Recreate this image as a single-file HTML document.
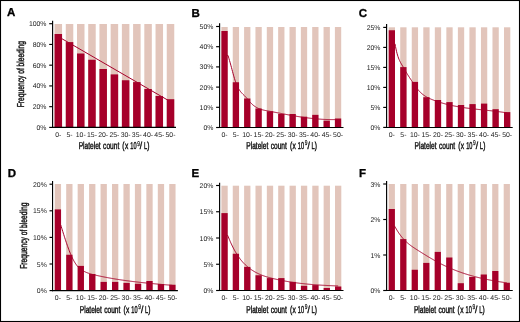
<!DOCTYPE html>
<html><head><meta charset="utf-8"><style>
html,body{margin:0;padding:0;background:#fff;}
body{width:520px;height:322px;overflow:hidden;}
svg{display:block;will-change:transform;}
text{font-family:"Liberation Sans",sans-serif;fill:#000;text-rendering:geometricPrecision;}
.tk{font-size:6.9px;fill:#1a1a1a;}
.lt{font-size:11.5px;font-weight:bold;stroke:#000;stroke-width:0.3px;}
.tt{font-size:10px;fill:#111;stroke:#111;stroke-width:0.45px;}
</style></head><body>
<svg width="520" height="322" viewBox="0 0 520 322">
<rect x="0" y="0" width="520" height="322" fill="#fff"/>
<rect x="54.56" y="24" width="7.5" height="103.4" fill="#e2c5bb"/>
<rect x="54.56" y="34" width="7.5" height="93.4" fill="#a6002a"/>
<rect x="65.78" y="24" width="7.5" height="103.4" fill="#e2c5bb"/>
<rect x="65.78" y="42.1" width="7.5" height="85.3" fill="#a6002a"/>
<rect x="77" y="24" width="7.5" height="103.4" fill="#e2c5bb"/>
<rect x="77" y="53.5" width="7.5" height="73.9" fill="#a6002a"/>
<rect x="88.22" y="24" width="7.5" height="103.4" fill="#e2c5bb"/>
<rect x="88.22" y="59.75" width="7.5" height="67.65" fill="#a6002a"/>
<rect x="99.44" y="24" width="7.5" height="103.4" fill="#e2c5bb"/>
<rect x="99.44" y="69" width="7.5" height="58.4" fill="#a6002a"/>
<rect x="110.66" y="24" width="7.5" height="103.4" fill="#e2c5bb"/>
<rect x="110.66" y="74.4" width="7.5" height="53" fill="#a6002a"/>
<rect x="121.88" y="24" width="7.5" height="103.4" fill="#e2c5bb"/>
<rect x="121.88" y="80.25" width="7.5" height="47.15" fill="#a6002a"/>
<rect x="133.1" y="24" width="7.5" height="103.4" fill="#e2c5bb"/>
<rect x="133.1" y="82.1" width="7.5" height="45.3" fill="#a6002a"/>
<rect x="144.32" y="24" width="7.5" height="103.4" fill="#e2c5bb"/>
<rect x="144.32" y="89" width="7.5" height="38.4" fill="#a6002a"/>
<rect x="155.54" y="24" width="7.5" height="103.4" fill="#e2c5bb"/>
<rect x="155.54" y="96" width="7.5" height="31.4" fill="#a6002a"/>
<rect x="166.76" y="24" width="7.5" height="103.4" fill="#e2c5bb"/>
<rect x="166.76" y="99.2" width="7.5" height="28.2" fill="#a6002a"/>
<path d="M58.31,36.61L170.51,101.69" fill="none" stroke="#a6002a" stroke-width="1"/>
<line x1="52.6" y1="20.8" x2="52.6" y2="128" stroke="#000" stroke-width="1.15"/>
<line x1="52" y1="127.4" x2="176" y2="127.4" stroke="#000" stroke-width="1.15"/>
<line x1="49.2" y1="127.4" x2="52.6" y2="127.4" stroke="#000" stroke-width="1.15"/>
<text x="46.5" y="129.9" text-anchor="end" class="tk">0%</text>
<line x1="49.2" y1="106.66" x2="52.6" y2="106.66" stroke="#000" stroke-width="1.15"/>
<text x="46.5" y="109.16" text-anchor="end" class="tk">20%</text>
<line x1="49.2" y1="85.92" x2="52.6" y2="85.92" stroke="#000" stroke-width="1.15"/>
<text x="46.5" y="88.42" text-anchor="end" class="tk">40%</text>
<line x1="49.2" y1="65.18" x2="52.6" y2="65.18" stroke="#000" stroke-width="1.15"/>
<text x="46.5" y="67.68" text-anchor="end" class="tk">60%</text>
<line x1="49.2" y1="44.44" x2="52.6" y2="44.44" stroke="#000" stroke-width="1.15"/>
<text x="46.5" y="46.94" text-anchor="end" class="tk">80%</text>
<line x1="49.2" y1="23.7" x2="52.6" y2="23.7" stroke="#000" stroke-width="1.15"/>
<text x="46.5" y="26.2" text-anchor="end" class="tk">100%</text>
<text x="58.31" y="136.5" text-anchor="middle" class="tk">0-</text>
<text x="69.53" y="136.5" text-anchor="middle" class="tk">5-</text>
<text x="80.75" y="136.5" text-anchor="middle" class="tk">10-</text>
<text x="91.97" y="136.5" text-anchor="middle" class="tk">15-</text>
<text x="103.19" y="136.5" text-anchor="middle" class="tk">20-</text>
<text x="114.41" y="136.5" text-anchor="middle" class="tk">25-</text>
<text x="125.63" y="136.5" text-anchor="middle" class="tk">30-</text>
<text x="136.85" y="136.5" text-anchor="middle" class="tk">35-</text>
<text x="148.07" y="136.5" text-anchor="middle" class="tk">40-</text>
<text x="159.29" y="136.5" text-anchor="middle" class="tk">45-</text>
<text x="170.51" y="136.5" text-anchor="middle" class="tk">50-</text>
<text x="7" y="16.35" class="lt">A</text>
<text transform="translate(78.66,149.4) scale(0.66,1)" class="tt">Platelet</text>
<text transform="translate(103.12,149.4) scale(0.66,1)" class="tt">count</text>
<text transform="translate(122.29,149.4) scale(0.66,1)" class="tt">(</text>
<text transform="translate(124.88,149.4) scale(0.66,1)" class="tt">x</text>
<text transform="translate(130.27,149.4) scale(0.56,1)" class="tt">10</text>
<text transform="translate(137.17,145.6) scale(0.7,1)" class="tt" style="font-size:7px;stroke-width:0.2px">9</text>
<text transform="translate(139.8,149.4) scale(0.85,1)" class="tt">/</text>
<text transform="translate(143.93,149.4) scale(0.57,1)" class="tt">L</text>
<text transform="translate(147.26,149.4) scale(0.66,1)" class="tt">)</text>
<rect x="221.4" y="27" width="6.3" height="100.5" fill="#e2c5bb"/>
<rect x="221.4" y="31" width="6.3" height="96.5" fill="#a6002a"/>
<rect x="232.75" y="27" width="6.3" height="100.5" fill="#e2c5bb"/>
<rect x="232.75" y="82.25" width="6.3" height="45.25" fill="#a6002a"/>
<rect x="244.1" y="27" width="6.3" height="100.5" fill="#e2c5bb"/>
<rect x="244.1" y="98.5" width="6.3" height="29" fill="#a6002a"/>
<rect x="255.45" y="27" width="6.3" height="100.5" fill="#e2c5bb"/>
<rect x="255.45" y="108.5" width="6.3" height="19" fill="#a6002a"/>
<rect x="266.8" y="27" width="6.3" height="100.5" fill="#e2c5bb"/>
<rect x="266.8" y="111.25" width="6.3" height="16.25" fill="#a6002a"/>
<rect x="278.15" y="27" width="6.3" height="100.5" fill="#e2c5bb"/>
<rect x="278.15" y="114" width="6.3" height="13.5" fill="#a6002a"/>
<rect x="289.5" y="27" width="6.3" height="100.5" fill="#e2c5bb"/>
<rect x="289.5" y="114" width="6.3" height="13.5" fill="#a6002a"/>
<rect x="300.85" y="27" width="6.3" height="100.5" fill="#e2c5bb"/>
<rect x="300.85" y="116.7" width="6.3" height="10.8" fill="#a6002a"/>
<rect x="312.2" y="27" width="6.3" height="100.5" fill="#e2c5bb"/>
<rect x="312.2" y="114.85" width="6.3" height="12.65" fill="#a6002a"/>
<rect x="323.55" y="27" width="6.3" height="100.5" fill="#e2c5bb"/>
<rect x="323.55" y="120.7" width="6.3" height="6.8" fill="#a6002a"/>
<rect x="334.9" y="27" width="6.3" height="100.5" fill="#e2c5bb"/>
<rect x="334.9" y="118.5" width="6.3" height="9" fill="#a6002a"/>
<path d="M224.55,55.41 L228,55.41 L228.5,57.07 L229,58.75 L229.5,60.45 L230,62.19 L230.5,63.97 L231,65.8 L231.5,67.66 L232,69.55 L232.5,71.43 L233,73.3 L233.5,75.13 L234,76.9 L234.5,78.6 L235,80.21 L235.5,81.71 L236,83.1 L236.5,84.37 L237,85.55 L237.5,86.63 L238,87.63 L238.5,88.54 L239,89.39 L239.5,90.16 L240,90.88 L240.5,91.54 L241,92.15 L241.5,92.73 L242,93.28 L242.5,93.8 L243,94.3 L243.5,94.79 L244,95.28 L244.5,95.76 L245,96.26 L245.5,96.77 L246,97.31 L246.5,97.87 L247,98.46 L247.5,99.06 L248,99.67 L248.5,100.27 L249,100.88 L249.5,101.47 L250,102.05 L250.5,102.61 L251,103.13 L251.5,103.64 L252,104.12 L252.5,104.57 L253,105 L253.5,105.41 L254,105.8 L254.5,106.16 L255,106.51 L255.5,106.84 L256,107.15 L256.5,107.44 L257,107.71 L257.5,107.97 L258,108.21 L258.5,108.44 L259,108.65 L259.5,108.85 L260,109.04 L260.5,109.22 L261,109.38 L261.5,109.54 L262,109.68 L262.5,109.82 L263,109.95 L263.5,110.07 L264,110.19 L264.5,110.3 L265,110.4 L265.5,110.5 L266,110.6 L266.5,110.7 L267,110.79 L267.5,110.88 L268,110.97 L268.5,111.07 L269,111.16 L269.5,111.25 L270,111.34 L270.5,111.44 L271,111.53 L271.5,111.63 L272,111.72 L272.5,111.82 L273,111.91 L273.5,112.01 L274,112.1 L274.5,112.2 L275,112.29 L275.5,112.39 L276,112.49 L276.5,112.58 L277,112.68 L277.5,112.78 L278,112.87 L278.5,112.97 L279,113.06 L279.5,113.16 L280,113.26 L280.5,113.35 L281,113.45 L281.5,113.55 L282,113.64 L282.5,113.74 L283,113.83 L283.5,113.93 L284,114.02 L284.5,114.12 L285,114.21 L285.5,114.31 L286,114.4 L286.5,114.5 L287,114.59 L287.5,114.68 L288,114.78 L288.5,114.87 L289,114.96 L289.5,115.05 L290,115.14 L290.5,115.23 L291,115.32 L291.5,115.41 L292,115.5 L292.5,115.59 L293,115.68 L293.5,115.77 L294,115.85 L294.5,115.94 L295,116.02 L295.5,116.11 L296,116.19 L296.5,116.27 L297,116.36 L297.5,116.44 L298,116.52 L298.5,116.6 L299,116.68 L299.5,116.75 L300,116.83 L300.5,116.91 L301,116.98 L301.5,117.06 L302,117.13 L302.5,117.21 L303,117.28 L303.5,117.35 L304,117.42 L304.5,117.49 L305,117.56 L305.5,117.63 L306,117.69 L306.5,117.76 L307,117.82 L307.5,117.89 L308,117.95 L308.5,118.01 L309,118.07 L309.5,118.13 L310,118.19 L310.5,118.25 L311,118.31 L311.5,118.36 L312,118.42 L312.5,118.47 L313,118.52 L313.5,118.58 L314,118.63 L314.5,118.68 L315,118.72 L315.5,118.77 L316,118.82 L316.5,118.86 L317,118.9 L317.5,118.95 L318,118.99 L318.5,119.03 L319,119.07 L319.5,119.1 L320,119.14 L320.5,119.17 L321,119.21 L321.5,119.24 L322,119.27 L322.5,119.3 L323,119.33 L323.5,119.36 L324,119.38 L324.5,119.41 L325,119.43 L325.5,119.45 L326,119.47 L326.5,119.49 L327,119.51 L327.5,119.52 L328,119.54 L328.5,119.55 L329,119.56 L329.5,119.57 L330,119.58 L330.5,119.59 L331,119.6 L331.5,119.6 L332,119.6 L332.5,119.6 L333,119.6 L333.5,119.6 L334,119.6 L334.5,119.6 L335,119.59 L335.5,119.58 L336,119.57 L336.5,119.56 L337,119.55 L337.5,119.53 L338,119.52 L338.05,119.52" fill="none" stroke="#a6002a" stroke-width="1"/>
<line x1="219.6" y1="23.3" x2="219.6" y2="128.1" stroke="#000" stroke-width="1.15"/>
<line x1="219" y1="127.5" x2="343.5" y2="127.5" stroke="#000" stroke-width="1.15"/>
<line x1="216.1" y1="127.5" x2="219.6" y2="127.5" stroke="#000" stroke-width="1.15"/>
<text x="213.4" y="130" text-anchor="end" class="tk">0%</text>
<line x1="216.1" y1="107.3" x2="219.6" y2="107.3" stroke="#000" stroke-width="1.15"/>
<text x="213.4" y="109.8" text-anchor="end" class="tk">10%</text>
<line x1="216.1" y1="87.1" x2="219.6" y2="87.1" stroke="#000" stroke-width="1.15"/>
<text x="213.4" y="89.6" text-anchor="end" class="tk">20%</text>
<line x1="216.1" y1="66.9" x2="219.6" y2="66.9" stroke="#000" stroke-width="1.15"/>
<text x="213.4" y="69.4" text-anchor="end" class="tk">30%</text>
<line x1="216.1" y1="46.7" x2="219.6" y2="46.7" stroke="#000" stroke-width="1.15"/>
<text x="213.4" y="49.2" text-anchor="end" class="tk">40%</text>
<line x1="216.1" y1="26.5" x2="219.6" y2="26.5" stroke="#000" stroke-width="1.15"/>
<text x="213.4" y="29" text-anchor="end" class="tk">50%</text>
<text x="224.55" y="136.5" text-anchor="middle" class="tk">0-</text>
<text x="235.9" y="136.5" text-anchor="middle" class="tk">5-</text>
<text x="247.25" y="136.5" text-anchor="middle" class="tk">10-</text>
<text x="258.6" y="136.5" text-anchor="middle" class="tk">15-</text>
<text x="269.95" y="136.5" text-anchor="middle" class="tk">20-</text>
<text x="281.3" y="136.5" text-anchor="middle" class="tk">25-</text>
<text x="292.65" y="136.5" text-anchor="middle" class="tk">30-</text>
<text x="304" y="136.5" text-anchor="middle" class="tk">35-</text>
<text x="315.35" y="136.5" text-anchor="middle" class="tk">40-</text>
<text x="326.7" y="136.5" text-anchor="middle" class="tk">45-</text>
<text x="338.05" y="136.5" text-anchor="middle" class="tk">50-</text>
<text x="191.4" y="16.6" class="lt">B</text>
<text transform="translate(246.26,149.2) scale(0.66,1)" class="tt">Platelet</text>
<text transform="translate(270.72,149.2) scale(0.66,1)" class="tt">count</text>
<text transform="translate(289.89,149.2) scale(0.66,1)" class="tt">(</text>
<text transform="translate(292.48,149.2) scale(0.66,1)" class="tt">x</text>
<text transform="translate(297.87,149.2) scale(0.56,1)" class="tt">10</text>
<text transform="translate(304.77,145.4) scale(0.7,1)" class="tt" style="font-size:7px;stroke-width:0.2px">9</text>
<text transform="translate(307.4,149.2) scale(0.85,1)" class="tt">/</text>
<text transform="translate(311.53,149.2) scale(0.57,1)" class="tt">L</text>
<text transform="translate(314.86,149.2) scale(0.66,1)" class="tt">)</text>
<rect x="388.7" y="27.3" width="6.3" height="100.1" fill="#e2c5bb"/>
<rect x="388.7" y="30.25" width="6.3" height="97.15" fill="#a6002a"/>
<rect x="400.23" y="27.3" width="6.3" height="100.1" fill="#e2c5bb"/>
<rect x="400.23" y="67.1" width="6.3" height="60.3" fill="#a6002a"/>
<rect x="411.76" y="27.3" width="6.3" height="100.1" fill="#e2c5bb"/>
<rect x="411.76" y="81.9" width="6.3" height="45.5" fill="#a6002a"/>
<rect x="423.29" y="27.3" width="6.3" height="100.1" fill="#e2c5bb"/>
<rect x="423.29" y="97.2" width="6.3" height="30.2" fill="#a6002a"/>
<rect x="434.82" y="27.3" width="6.3" height="100.1" fill="#e2c5bb"/>
<rect x="434.82" y="100" width="6.3" height="27.4" fill="#a6002a"/>
<rect x="446.35" y="27.3" width="6.3" height="100.1" fill="#e2c5bb"/>
<rect x="446.35" y="102.1" width="6.3" height="25.3" fill="#a6002a"/>
<rect x="457.88" y="27.3" width="6.3" height="100.1" fill="#e2c5bb"/>
<rect x="457.88" y="105" width="6.3" height="22.4" fill="#a6002a"/>
<rect x="469.41" y="27.3" width="6.3" height="100.1" fill="#e2c5bb"/>
<rect x="469.41" y="104.1" width="6.3" height="23.3" fill="#a6002a"/>
<rect x="480.94" y="27.3" width="6.3" height="100.1" fill="#e2c5bb"/>
<rect x="480.94" y="103.6" width="6.3" height="23.8" fill="#a6002a"/>
<rect x="492.47" y="27.3" width="6.3" height="100.1" fill="#e2c5bb"/>
<rect x="492.47" y="109.2" width="6.3" height="18.2" fill="#a6002a"/>
<rect x="504" y="27.3" width="6.3" height="100.1" fill="#e2c5bb"/>
<rect x="504" y="112.1" width="6.3" height="15.3" fill="#a6002a"/>
<path d="M391.85,43.83 L395,43.83 L395.5,46.58 L396,49.06 L396.5,51.28 L397,53.26 L397.5,55.04 L398,56.62 L398.5,58.04 L399,59.31 L399.5,60.45 L400,61.49 L400.5,62.45 L401,63.34 L401.5,64.2 L402,65.05 L402.5,65.89 L403,66.75 L403.5,67.62 L404,68.49 L404.5,69.37 L405,70.24 L405.5,71.1 L406,71.95 L406.5,72.78 L407,73.6 L407.5,74.4 L408,75.19 L408.5,75.98 L409,76.75 L409.5,77.51 L410,78.27 L410.5,79.02 L411,79.77 L411.5,80.51 L412,81.26 L412.5,82 L413,82.75 L413.5,83.49 L414,84.23 L414.5,84.97 L415,85.69 L415.5,86.4 L416,87.1 L416.5,87.78 L417,88.44 L417.5,89.08 L418,89.7 L418.5,90.29 L419,90.85 L419.5,91.4 L420,91.92 L420.5,92.42 L421,92.89 L421.5,93.35 L422,93.79 L422.5,94.2 L423,94.6 L423.5,94.98 L424,95.35 L424.5,95.7 L425,96.03 L425.5,96.35 L426,96.65 L426.5,96.95 L427,97.23 L427.5,97.49 L428,97.75 L428.5,98 L429,98.24 L429.5,98.47 L430,98.7 L430.5,98.91 L431,99.12 L431.5,99.33 L432,99.53 L432.5,99.73 L433,99.92 L433.5,100.12 L434,100.31 L434.5,100.49 L435,100.68 L435.5,100.86 L436,101.04 L436.5,101.21 L437,101.39 L437.5,101.56 L438,101.73 L438.5,101.89 L439,102.05 L439.5,102.22 L440,102.37 L440.5,102.53 L441,102.68 L441.5,102.84 L442,102.98 L442.5,103.13 L443,103.28 L443.5,103.42 L444,103.56 L444.5,103.7 L445,103.83 L445.5,103.97 L446,104.1 L446.5,104.23 L447,104.35 L447.5,104.48 L448,104.6 L448.5,104.72 L449,104.84 L449.5,104.96 L450,105.08 L450.5,105.19 L451,105.3 L451.5,105.41 L452,105.52 L452.5,105.63 L453,105.73 L453.5,105.84 L454,105.94 L454.5,106.04 L455,106.14 L455.5,106.23 L456,106.33 L456.5,106.42 L457,106.51 L457.5,106.6 L458,106.69 L458.5,106.78 L459,106.87 L459.5,106.95 L460,107.04 L460.5,107.12 L461,107.2 L461.5,107.28 L462,107.36 L462.5,107.44 L463,107.51 L463.5,107.59 L464,107.66 L464.5,107.73 L465,107.81 L465.5,107.88 L466,107.95 L466.5,108.02 L467,108.08 L467.5,108.15 L468,108.22 L468.5,108.28 L469,108.35 L469.5,108.41 L470,108.47 L470.5,108.54 L471,108.6 L471.5,108.66 L472,108.72 L472.5,108.78 L473,108.84 L473.5,108.89 L474,108.95 L474.5,109.01 L475,109.07 L475.5,109.12 L476,109.18 L476.5,109.23 L477,109.29 L477.5,109.34 L478,109.4 L478.5,109.45 L479,109.5 L479.5,109.56 L480,109.61 L480.5,109.66 L481,109.71 L481.5,109.77 L482,109.82 L482.5,109.87 L483,109.92 L483.5,109.97 L484,110.03 L484.5,110.08 L485,110.13 L485.5,110.18 L486,110.23 L486.5,110.29 L487,110.34 L487.5,110.39 L488,110.45 L488.5,110.5 L489,110.55 L489.5,110.61 L490,110.66 L490.5,110.71 L491,110.77 L491.5,110.82 L492,110.88 L492.5,110.93 L493,110.99 L493.5,111.05 L494,111.11 L494.5,111.16 L495,111.22 L495.5,111.28 L496,111.34 L496.5,111.4 L497,111.46 L497.5,111.52 L498,111.59 L498.5,111.65 L499,111.71 L499.5,111.78 L500,111.85 L500.5,111.91 L501,111.98 L501.5,112.05 L502,112.12 L502.5,112.19 L503,112.26 L503.5,112.33 L504,112.41 L504.5,112.48 L505,112.56 L505.5,112.64 L506,112.71 L506.5,112.79 L507,112.87 L507.15,112.9" fill="none" stroke="#a6002a" stroke-width="1"/>
<line x1="386.6" y1="24.1" x2="386.6" y2="128.1" stroke="#000" stroke-width="1.15"/>
<line x1="386" y1="127.5" x2="512.7" y2="127.5" stroke="#000" stroke-width="1.15"/>
<line x1="383.2" y1="127.4" x2="386.6" y2="127.4" stroke="#000" stroke-width="1.15"/>
<text x="380.5" y="129.9" text-anchor="end" class="tk">0%</text>
<line x1="383.2" y1="107.4" x2="386.6" y2="107.4" stroke="#000" stroke-width="1.15"/>
<text x="380.5" y="109.9" text-anchor="end" class="tk">5%</text>
<line x1="383.2" y1="87.4" x2="386.6" y2="87.4" stroke="#000" stroke-width="1.15"/>
<text x="380.5" y="89.9" text-anchor="end" class="tk">10%</text>
<line x1="383.2" y1="67.4" x2="386.6" y2="67.4" stroke="#000" stroke-width="1.15"/>
<text x="380.5" y="69.9" text-anchor="end" class="tk">15%</text>
<line x1="383.2" y1="47.4" x2="386.6" y2="47.4" stroke="#000" stroke-width="1.15"/>
<text x="380.5" y="49.9" text-anchor="end" class="tk">20%</text>
<line x1="383.2" y1="27.4" x2="386.6" y2="27.4" stroke="#000" stroke-width="1.15"/>
<text x="380.5" y="29.9" text-anchor="end" class="tk">25%</text>
<text x="391.85" y="136.5" text-anchor="middle" class="tk">0-</text>
<text x="403.38" y="136.5" text-anchor="middle" class="tk">5-</text>
<text x="414.91" y="136.5" text-anchor="middle" class="tk">10-</text>
<text x="426.44" y="136.5" text-anchor="middle" class="tk">15-</text>
<text x="437.97" y="136.5" text-anchor="middle" class="tk">20-</text>
<text x="449.5" y="136.5" text-anchor="middle" class="tk">25-</text>
<text x="461.03" y="136.5" text-anchor="middle" class="tk">30-</text>
<text x="472.56" y="136.5" text-anchor="middle" class="tk">35-</text>
<text x="484.09" y="136.5" text-anchor="middle" class="tk">40-</text>
<text x="495.62" y="136.5" text-anchor="middle" class="tk">45-</text>
<text x="507.15" y="136.5" text-anchor="middle" class="tk">50-</text>
<text x="358.7" y="16.8" class="lt">C</text>
<text transform="translate(414.56,149.2) scale(0.66,1)" class="tt">Platelet</text>
<text transform="translate(439.02,149.2) scale(0.66,1)" class="tt">count</text>
<text transform="translate(458.19,149.2) scale(0.66,1)" class="tt">(</text>
<text transform="translate(460.78,149.2) scale(0.66,1)" class="tt">x</text>
<text transform="translate(466.17,149.2) scale(0.56,1)" class="tt">10</text>
<text transform="translate(473.07,145.4) scale(0.7,1)" class="tt" style="font-size:7px;stroke-width:0.2px">9</text>
<text transform="translate(475.7,149.2) scale(0.85,1)" class="tt">/</text>
<text transform="translate(479.83,149.2) scale(0.57,1)" class="tt">L</text>
<text transform="translate(483.16,149.2) scale(0.66,1)" class="tt">)</text>
<rect x="54.75" y="184" width="6.3" height="106.6" fill="#e2c5bb"/>
<rect x="54.75" y="209.4" width="6.3" height="81.2" fill="#a6002a"/>
<rect x="66.2" y="184" width="6.3" height="106.6" fill="#e2c5bb"/>
<rect x="66.2" y="254.75" width="6.3" height="35.85" fill="#a6002a"/>
<rect x="77.65" y="184" width="6.3" height="106.6" fill="#e2c5bb"/>
<rect x="77.65" y="265.9" width="6.3" height="24.7" fill="#a6002a"/>
<rect x="89.1" y="184" width="6.3" height="106.6" fill="#e2c5bb"/>
<rect x="89.1" y="274" width="6.3" height="16.6" fill="#a6002a"/>
<rect x="100.55" y="184" width="6.3" height="106.6" fill="#e2c5bb"/>
<rect x="100.55" y="281.9" width="6.3" height="8.7" fill="#a6002a"/>
<rect x="112" y="184" width="6.3" height="106.6" fill="#e2c5bb"/>
<rect x="112" y="281.9" width="6.3" height="8.7" fill="#a6002a"/>
<rect x="123.45" y="184" width="6.3" height="106.6" fill="#e2c5bb"/>
<rect x="123.45" y="282.9" width="6.3" height="7.7" fill="#a6002a"/>
<rect x="134.9" y="184" width="6.3" height="106.6" fill="#e2c5bb"/>
<rect x="134.9" y="283.75" width="6.3" height="6.85" fill="#a6002a"/>
<rect x="146.35" y="184" width="6.3" height="106.6" fill="#e2c5bb"/>
<rect x="146.35" y="281" width="6.3" height="9.6" fill="#a6002a"/>
<rect x="157.8" y="184" width="6.3" height="106.6" fill="#e2c5bb"/>
<rect x="157.8" y="284.1" width="6.3" height="6.5" fill="#a6002a"/>
<rect x="169.25" y="184" width="6.3" height="106.6" fill="#e2c5bb"/>
<rect x="169.25" y="284.75" width="6.3" height="5.85" fill="#a6002a"/>
<path d="M57.9,225.05 L60.75,225.05 L61.25,226.66 L61.75,228.27 L62.25,229.87 L62.75,231.47 L63.25,233.06 L63.75,234.64 L64.25,236.21 L64.75,237.77 L65.25,239.31 L65.75,240.83 L66.25,242.32 L66.75,243.8 L67.25,245.24 L67.75,246.66 L68.25,248.05 L68.75,249.41 L69.25,250.72 L69.75,252.01 L70.25,253.25 L70.75,254.44 L71.25,255.59 L71.75,256.7 L72.25,257.76 L72.75,258.78 L73.25,259.75 L73.75,260.68 L74.25,261.56 L74.75,262.4 L75.25,263.19 L75.75,263.94 L76.25,264.65 L76.75,265.31 L77.25,265.93 L77.75,266.51 L78.25,267.05 L78.75,267.56 L79.25,268.04 L79.75,268.49 L80.25,268.9 L80.75,269.3 L81.25,269.66 L81.75,270 L82.25,270.33 L82.75,270.63 L83.25,270.91 L83.75,271.19 L84.25,271.44 L84.75,271.69 L85.25,271.93 L85.75,272.15 L86.25,272.37 L86.75,272.57 L87.25,272.77 L87.75,272.96 L88.25,273.14 L88.75,273.31 L89.25,273.48 L89.75,273.64 L90.25,273.79 L90.75,273.94 L91.25,274.09 L91.75,274.22 L92.25,274.36 L92.75,274.49 L93.25,274.61 L93.75,274.73 L94.25,274.85 L94.75,274.97 L95.25,275.09 L95.75,275.2 L96.25,275.31 L96.75,275.43 L97.25,275.54 L97.75,275.65 L98.25,275.76 L98.75,275.87 L99.25,275.98 L99.75,276.08 L100.25,276.19 L100.75,276.29 L101.25,276.4 L101.75,276.5 L102.25,276.6 L102.75,276.71 L103.25,276.81 L103.75,276.91 L104.25,277.01 L104.75,277.11 L105.25,277.2 L105.75,277.3 L106.25,277.4 L106.75,277.49 L107.25,277.59 L107.75,277.68 L108.25,277.77 L108.75,277.87 L109.25,277.96 L109.75,278.05 L110.25,278.14 L110.75,278.23 L111.25,278.31 L111.75,278.4 L112.25,278.49 L112.75,278.58 L113.25,278.66 L113.75,278.75 L114.25,278.83 L114.75,278.91 L115.25,279 L115.75,279.08 L116.25,279.16 L116.75,279.24 L117.25,279.32 L117.75,279.4 L118.25,279.48 L118.75,279.55 L119.25,279.63 L119.75,279.71 L120.25,279.78 L120.75,279.86 L121.25,279.93 L121.75,280.01 L122.25,280.08 L122.75,280.15 L123.25,280.23 L123.75,280.3 L124.25,280.37 L124.75,280.44 L125.25,280.51 L125.75,280.58 L126.25,280.65 L126.75,280.72 L127.25,280.78 L127.75,280.85 L128.25,280.92 L128.75,280.98 L129.25,281.05 L129.75,281.11 L130.25,281.18 L130.75,281.24 L131.25,281.3 L131.75,281.37 L132.25,281.43 L132.75,281.49 L133.25,281.55 L133.75,281.61 L134.25,281.67 L134.75,281.73 L135.25,281.79 L135.75,281.85 L136.25,281.91 L136.75,281.97 L137.25,282.03 L137.75,282.08 L138.25,282.14 L138.75,282.2 L139.25,282.25 L139.75,282.31 L140.25,282.36 L140.75,282.42 L141.25,282.47 L141.75,282.53 L142.25,282.58 L142.75,282.63 L143.25,282.69 L143.75,282.74 L144.25,282.79 L144.75,282.84 L145.25,282.89 L145.75,282.95 L146.25,283 L146.75,283.05 L147.25,283.1 L147.75,283.15 L148.25,283.2 L148.75,283.24 L149.25,283.29 L149.75,283.34 L150.25,283.39 L150.75,283.44 L151.25,283.49 L151.75,283.53 L152.25,283.58 L152.75,283.63 L153.25,283.67 L153.75,283.72 L154.25,283.77 L154.75,283.81 L155.25,283.86 L155.75,283.9 L156.25,283.95 L156.75,284 L157.25,284.04 L157.75,284.08 L158.25,284.13 L158.75,284.17 L159.25,284.22 L159.75,284.26 L160.25,284.31 L160.75,284.35 L161.25,284.39 L161.75,284.44 L162.25,284.48 L162.75,284.52 L163.25,284.57 L163.75,284.61 L164.25,284.65 L164.75,284.69 L165.25,284.74 L165.75,284.78 L166.25,284.82 L166.75,284.86 L167.25,284.91 L167.75,284.95 L168.25,284.99 L168.75,285.03 L169.25,285.07 L169.75,285.11 L170.25,285.16 L170.75,285.2 L171.25,285.24 L171.75,285.28 L172.25,285.32 L172.4,285.34" fill="none" stroke="#a6002a" stroke-width="1"/>
<line x1="52.55" y1="181" x2="52.55" y2="291.2" stroke="#000" stroke-width="1.15"/>
<line x1="51.95" y1="290.6" x2="177.9" y2="290.6" stroke="#000" stroke-width="1.15"/>
<line x1="49.5" y1="290.6" x2="52.55" y2="290.6" stroke="#000" stroke-width="1.15"/>
<text x="46.8" y="293.1" text-anchor="end" class="tk">0%</text>
<line x1="49.5" y1="264" x2="52.55" y2="264" stroke="#000" stroke-width="1.15"/>
<text x="46.8" y="266.5" text-anchor="end" class="tk">5%</text>
<line x1="49.5" y1="237.4" x2="52.55" y2="237.4" stroke="#000" stroke-width="1.15"/>
<text x="46.8" y="239.9" text-anchor="end" class="tk">10%</text>
<line x1="49.5" y1="210.8" x2="52.55" y2="210.8" stroke="#000" stroke-width="1.15"/>
<text x="46.8" y="213.3" text-anchor="end" class="tk">15%</text>
<line x1="49.5" y1="184.2" x2="52.55" y2="184.2" stroke="#000" stroke-width="1.15"/>
<text x="46.8" y="186.7" text-anchor="end" class="tk">20%</text>
<text x="57.9" y="299.7" text-anchor="middle" class="tk">0-</text>
<text x="69.35" y="299.7" text-anchor="middle" class="tk">5-</text>
<text x="80.8" y="299.7" text-anchor="middle" class="tk">10-</text>
<text x="92.25" y="299.7" text-anchor="middle" class="tk">15-</text>
<text x="103.7" y="299.7" text-anchor="middle" class="tk">20-</text>
<text x="115.15" y="299.7" text-anchor="middle" class="tk">25-</text>
<text x="126.6" y="299.7" text-anchor="middle" class="tk">30-</text>
<text x="138.05" y="299.7" text-anchor="middle" class="tk">35-</text>
<text x="149.5" y="299.7" text-anchor="middle" class="tk">40-</text>
<text x="160.95" y="299.7" text-anchor="middle" class="tk">45-</text>
<text x="172.4" y="299.7" text-anchor="middle" class="tk">50-</text>
<text x="7.75" y="177.1" class="lt">D</text>
<text transform="translate(79.76,312.8) scale(0.66,1)" class="tt">Platelet</text>
<text transform="translate(104.22,312.8) scale(0.66,1)" class="tt">count</text>
<text transform="translate(123.39,312.8) scale(0.66,1)" class="tt">(</text>
<text transform="translate(125.98,312.8) scale(0.66,1)" class="tt">x</text>
<text transform="translate(131.37,312.8) scale(0.56,1)" class="tt">10</text>
<text transform="translate(138.27,309) scale(0.7,1)" class="tt" style="font-size:7px;stroke-width:0.2px">9</text>
<text transform="translate(140.9,312.8) scale(0.85,1)" class="tt">/</text>
<text transform="translate(145.03,312.8) scale(0.57,1)" class="tt">L</text>
<text transform="translate(148.36,312.8) scale(0.66,1)" class="tt">)</text>
<rect x="221.4" y="185.7" width="6.3" height="104.8" fill="#e2c5bb"/>
<rect x="221.4" y="213.1" width="6.3" height="77.4" fill="#a6002a"/>
<rect x="232.76" y="185.7" width="6.3" height="104.8" fill="#e2c5bb"/>
<rect x="232.76" y="253.75" width="6.3" height="36.75" fill="#a6002a"/>
<rect x="244.12" y="185.7" width="6.3" height="104.8" fill="#e2c5bb"/>
<rect x="244.12" y="266.9" width="6.3" height="23.6" fill="#a6002a"/>
<rect x="255.48" y="185.7" width="6.3" height="104.8" fill="#e2c5bb"/>
<rect x="255.48" y="275.25" width="6.3" height="15.25" fill="#a6002a"/>
<rect x="266.84" y="185.7" width="6.3" height="104.8" fill="#e2c5bb"/>
<rect x="266.84" y="278.1" width="6.3" height="12.4" fill="#a6002a"/>
<rect x="278.2" y="185.7" width="6.3" height="104.8" fill="#e2c5bb"/>
<rect x="278.2" y="278.1" width="6.3" height="12.4" fill="#a6002a"/>
<rect x="289.56" y="185.7" width="6.3" height="104.8" fill="#e2c5bb"/>
<rect x="289.56" y="281.9" width="6.3" height="8.6" fill="#a6002a"/>
<rect x="300.92" y="185.7" width="6.3" height="104.8" fill="#e2c5bb"/>
<rect x="300.92" y="285.8" width="6.3" height="4.7" fill="#a6002a"/>
<rect x="312.28" y="185.7" width="6.3" height="104.8" fill="#e2c5bb"/>
<rect x="312.28" y="285.1" width="6.3" height="5.4" fill="#a6002a"/>
<rect x="323.64" y="185.7" width="6.3" height="104.8" fill="#e2c5bb"/>
<rect x="323.64" y="288" width="6.3" height="2.5" fill="#a6002a"/>
<rect x="335" y="185.7" width="6.3" height="104.8" fill="#e2c5bb"/>
<rect x="335" y="286.5" width="6.3" height="4" fill="#a6002a"/>
<path d="M224.55,235.47 L227.75,235.47 L228.25,236.75 L228.75,238 L229.25,239.22 L229.75,240.4 L230.25,241.56 L230.75,242.69 L231.25,243.78 L231.75,244.85 L232.25,245.89 L232.75,246.91 L233.25,247.89 L233.75,248.85 L234.25,249.78 L234.75,250.69 L235.25,251.57 L235.75,252.43 L236.25,253.26 L236.75,254.07 L237.25,254.86 L237.75,255.62 L238.25,256.36 L238.75,257.08 L239.25,257.78 L239.75,258.46 L240.25,259.12 L240.75,259.76 L241.25,260.38 L241.75,260.98 L242.25,261.56 L242.75,262.13 L243.25,262.68 L243.75,263.21 L244.25,263.73 L244.75,264.23 L245.25,264.72 L245.75,265.19 L246.25,265.65 L246.75,266.09 L247.25,266.53 L247.75,266.95 L248.25,267.36 L248.75,267.75 L249.25,268.14 L249.75,268.52 L250.25,268.89 L250.75,269.25 L251.25,269.6 L251.75,269.94 L252.25,270.27 L252.75,270.59 L253.25,270.9 L253.75,271.21 L254.25,271.51 L254.75,271.8 L255.25,272.08 L255.75,272.36 L256.25,272.63 L256.75,272.89 L257.25,273.14 L257.75,273.39 L258.25,273.63 L258.75,273.86 L259.25,274.09 L259.75,274.31 L260.25,274.53 L260.75,274.73 L261.25,274.94 L261.75,275.14 L262.25,275.33 L262.75,275.52 L263.25,275.7 L263.75,275.88 L264.25,276.05 L264.75,276.22 L265.25,276.39 L265.75,276.55 L266.25,276.71 L266.75,276.86 L267.25,277.01 L267.75,277.15 L268.25,277.3 L268.75,277.44 L269.25,277.58 L269.75,277.71 L270.25,277.84 L270.75,277.97 L271.25,278.1 L271.75,278.23 L272.25,278.35 L272.75,278.47 L273.25,278.59 L273.75,278.71 L274.25,278.83 L274.75,278.95 L275.25,279.06 L275.75,279.17 L276.25,279.29 L276.75,279.4 L277.25,279.51 L277.75,279.62 L278.25,279.72 L278.75,279.83 L279.25,279.94 L279.75,280.04 L280.25,280.14 L280.75,280.24 L281.25,280.34 L281.75,280.44 L282.25,280.54 L282.75,280.64 L283.25,280.73 L283.75,280.83 L284.25,280.92 L284.75,281.01 L285.25,281.1 L285.75,281.19 L286.25,281.28 L286.75,281.37 L287.25,281.45 L287.75,281.54 L288.25,281.62 L288.75,281.7 L289.25,281.79 L289.75,281.87 L290.25,281.95 L290.75,282.02 L291.25,282.1 L291.75,282.18 L292.25,282.25 L292.75,282.33 L293.25,282.4 L293.75,282.47 L294.25,282.54 L294.75,282.62 L295.25,282.68 L295.75,282.75 L296.25,282.82 L296.75,282.89 L297.25,282.95 L297.75,283.02 L298.25,283.08 L298.75,283.14 L299.25,283.21 L299.75,283.27 L300.25,283.33 L300.75,283.39 L301.25,283.44 L301.75,283.5 L302.25,283.56 L302.75,283.61 L303.25,283.67 L303.75,283.72 L304.25,283.78 L304.75,283.83 L305.25,283.88 L305.75,283.93 L306.25,283.98 L306.75,284.03 L307.25,284.08 L307.75,284.13 L308.25,284.18 L308.75,284.22 L309.25,284.27 L309.75,284.31 L310.25,284.36 L310.75,284.4 L311.25,284.44 L311.75,284.48 L312.25,284.53 L312.75,284.57 L313.25,284.61 L313.75,284.65 L314.25,284.69 L314.75,284.72 L315.25,284.76 L315.75,284.8 L316.25,284.83 L316.75,284.87 L317.25,284.9 L317.75,284.94 L318.25,284.97 L318.75,285.01 L319.25,285.04 L319.75,285.07 L320.25,285.1 L320.75,285.14 L321.25,285.17 L321.75,285.2 L322.25,285.23 L322.75,285.25 L323.25,285.28 L323.75,285.31 L324.25,285.34 L324.75,285.37 L325.25,285.39 L325.75,285.42 L326.25,285.45 L326.75,285.47 L327.25,285.5 L327.75,285.52 L328.25,285.55 L328.75,285.57 L329.25,285.59 L329.75,285.62 L330.25,285.64 L330.75,285.66 L331.25,285.68 L331.75,285.71 L332.25,285.73 L332.75,285.75 L333.25,285.77 L333.75,285.79 L334.25,285.81 L334.75,285.83 L335.25,285.85 L335.75,285.87 L336.25,285.89 L336.75,285.91 L337.25,285.93 L337.75,285.94 L338.15,285.96" fill="none" stroke="#a6002a" stroke-width="1"/>
<line x1="219.6" y1="182.65" x2="219.6" y2="291.1" stroke="#000" stroke-width="1.15"/>
<line x1="219" y1="290.5" x2="343.5" y2="290.5" stroke="#000" stroke-width="1.15"/>
<line x1="216.1" y1="290.5" x2="219.6" y2="290.5" stroke="#000" stroke-width="1.15"/>
<text x="213.4" y="293" text-anchor="end" class="tk">0%</text>
<line x1="216.1" y1="264.25" x2="219.6" y2="264.25" stroke="#000" stroke-width="1.15"/>
<text x="213.4" y="266.75" text-anchor="end" class="tk">5%</text>
<line x1="216.1" y1="238" x2="219.6" y2="238" stroke="#000" stroke-width="1.15"/>
<text x="213.4" y="240.5" text-anchor="end" class="tk">10%</text>
<line x1="216.1" y1="211.75" x2="219.6" y2="211.75" stroke="#000" stroke-width="1.15"/>
<text x="213.4" y="214.25" text-anchor="end" class="tk">15%</text>
<line x1="216.1" y1="185.5" x2="219.6" y2="185.5" stroke="#000" stroke-width="1.15"/>
<text x="213.4" y="188" text-anchor="end" class="tk">20%</text>
<text x="224.55" y="299.7" text-anchor="middle" class="tk">0-</text>
<text x="235.91" y="299.7" text-anchor="middle" class="tk">5-</text>
<text x="247.27" y="299.7" text-anchor="middle" class="tk">10-</text>
<text x="258.63" y="299.7" text-anchor="middle" class="tk">15-</text>
<text x="269.99" y="299.7" text-anchor="middle" class="tk">20-</text>
<text x="281.35" y="299.7" text-anchor="middle" class="tk">25-</text>
<text x="292.71" y="299.7" text-anchor="middle" class="tk">30-</text>
<text x="304.07" y="299.7" text-anchor="middle" class="tk">35-</text>
<text x="315.43" y="299.7" text-anchor="middle" class="tk">40-</text>
<text x="326.79" y="299.7" text-anchor="middle" class="tk">45-</text>
<text x="338.15" y="299.7" text-anchor="middle" class="tk">50-</text>
<text x="191.4" y="177.3" class="lt">E</text>
<text transform="translate(246.26,312.7) scale(0.66,1)" class="tt">Platelet</text>
<text transform="translate(270.72,312.7) scale(0.66,1)" class="tt">count</text>
<text transform="translate(289.89,312.7) scale(0.66,1)" class="tt">(</text>
<text transform="translate(292.48,312.7) scale(0.66,1)" class="tt">x</text>
<text transform="translate(297.87,312.7) scale(0.56,1)" class="tt">10</text>
<text transform="translate(304.77,308.9) scale(0.7,1)" class="tt" style="font-size:7px;stroke-width:0.2px">9</text>
<text transform="translate(307.4,312.7) scale(0.85,1)" class="tt">/</text>
<text transform="translate(311.53,312.7) scale(0.57,1)" class="tt">L</text>
<text transform="translate(314.86,312.7) scale(0.66,1)" class="tt">)</text>
<rect x="388.7" y="184" width="6.2" height="106.5" fill="#e2c5bb"/>
<rect x="388.7" y="209" width="6.2" height="81.5" fill="#a6002a"/>
<rect x="400.2" y="184" width="6.2" height="106.5" fill="#e2c5bb"/>
<rect x="400.2" y="239.1" width="6.2" height="51.4" fill="#a6002a"/>
<rect x="411.7" y="184" width="6.2" height="106.5" fill="#e2c5bb"/>
<rect x="411.7" y="269.75" width="6.2" height="20.75" fill="#a6002a"/>
<rect x="423.2" y="184" width="6.2" height="106.5" fill="#e2c5bb"/>
<rect x="423.2" y="262.9" width="6.2" height="27.6" fill="#a6002a"/>
<rect x="434.7" y="184" width="6.2" height="106.5" fill="#e2c5bb"/>
<rect x="434.7" y="251.9" width="6.2" height="38.6" fill="#a6002a"/>
<rect x="446.2" y="184" width="6.2" height="106.5" fill="#e2c5bb"/>
<rect x="446.2" y="257.5" width="6.2" height="33" fill="#a6002a"/>
<rect x="457.7" y="184" width="6.2" height="106.5" fill="#e2c5bb"/>
<rect x="457.7" y="283.2" width="6.2" height="7.3" fill="#a6002a"/>
<rect x="469.2" y="184" width="6.2" height="106.5" fill="#e2c5bb"/>
<rect x="469.2" y="277" width="6.2" height="13.5" fill="#a6002a"/>
<rect x="480.7" y="184" width="6.2" height="106.5" fill="#e2c5bb"/>
<rect x="480.7" y="274.5" width="6.2" height="16" fill="#a6002a"/>
<rect x="492.2" y="184" width="6.2" height="106.5" fill="#e2c5bb"/>
<rect x="492.2" y="271" width="6.2" height="19.5" fill="#a6002a"/>
<rect x="503.7" y="184" width="6.2" height="106.5" fill="#e2c5bb"/>
<rect x="503.7" y="282.75" width="6.2" height="7.75" fill="#a6002a"/>
<path d="M391.8,226.29 L394.75,226.29 L395.25,227.21 L395.75,228.1 L396.25,228.97 L396.75,229.81 L397.25,230.63 L397.75,231.42 L398.25,232.19 L398.75,232.93 L399.25,233.66 L399.75,234.36 L400.25,235.04 L400.75,235.7 L401.25,236.35 L401.75,236.97 L402.25,237.57 L402.75,238.16 L403.25,238.72 L403.75,239.27 L404.25,239.81 L404.75,240.33 L405.25,240.83 L405.75,241.32 L406.25,241.79 L406.75,242.26 L407.25,242.7 L407.75,243.14 L408.25,243.57 L408.75,243.98 L409.25,244.38 L409.75,244.78 L410.25,245.16 L410.75,245.54 L411.25,245.91 L411.75,246.27 L412.25,246.62 L412.75,246.97 L413.25,247.31 L413.75,247.65 L414.25,247.98 L414.75,248.31 L415.25,248.63 L415.75,248.96 L416.25,249.28 L416.75,249.6 L417.25,249.91 L417.75,250.23 L418.25,250.55 L418.75,250.87 L419.25,251.18 L419.75,251.5 L420.25,251.81 L420.75,252.13 L421.25,252.44 L421.75,252.76 L422.25,253.07 L422.75,253.38 L423.25,253.69 L423.75,254 L424.25,254.31 L424.75,254.62 L425.25,254.93 L425.75,255.24 L426.25,255.54 L426.75,255.85 L427.25,256.15 L427.75,256.45 L428.25,256.75 L428.75,257.05 L429.25,257.35 L429.75,257.65 L430.25,257.95 L430.75,258.24 L431.25,258.53 L431.75,258.82 L432.25,259.11 L432.75,259.4 L433.25,259.69 L433.75,259.97 L434.25,260.26 L434.75,260.54 L435.25,260.82 L435.75,261.1 L436.25,261.37 L436.75,261.65 L437.25,261.92 L437.75,262.19 L438.25,262.46 L438.75,262.72 L439.25,262.98 L439.75,263.25 L440.25,263.5 L440.75,263.76 L441.25,264.02 L441.75,264.27 L442.25,264.52 L442.75,264.77 L443.25,265.01 L443.75,265.25 L444.25,265.5 L444.75,265.73 L445.25,265.97 L445.75,266.21 L446.25,266.44 L446.75,266.67 L447.25,266.9 L447.75,267.12 L448.25,267.35 L448.75,267.57 L449.25,267.79 L449.75,268.01 L450.25,268.22 L450.75,268.44 L451.25,268.65 L451.75,268.86 L452.25,269.07 L452.75,269.27 L453.25,269.48 L453.75,269.68 L454.25,269.88 L454.75,270.08 L455.25,270.28 L455.75,270.47 L456.25,270.66 L456.75,270.85 L457.25,271.04 L457.75,271.23 L458.25,271.42 L458.75,271.6 L459.25,271.78 L459.75,271.96 L460.25,272.14 L460.75,272.32 L461.25,272.49 L461.75,272.67 L462.25,272.84 L462.75,273.01 L463.25,273.17 L463.75,273.34 L464.25,273.51 L464.75,273.67 L465.25,273.83 L465.75,273.99 L466.25,274.15 L466.75,274.31 L467.25,274.46 L467.75,274.61 L468.25,274.77 L468.75,274.92 L469.25,275.07 L469.75,275.21 L470.25,275.36 L470.75,275.5 L471.25,275.65 L471.75,275.79 L472.25,275.93 L472.75,276.07 L473.25,276.2 L473.75,276.34 L474.25,276.47 L474.75,276.61 L475.25,276.74 L475.75,276.87 L476.25,277 L476.75,277.13 L477.25,277.25 L477.75,277.38 L478.25,277.5 L478.75,277.62 L479.25,277.74 L479.75,277.86 L480.25,277.98 L480.75,278.1 L481.25,278.22 L481.75,278.33 L482.25,278.45 L482.75,278.56 L483.25,278.67 L483.75,278.78 L484.25,278.89 L484.75,279 L485.25,279.1 L485.75,279.21 L486.25,279.31 L486.75,279.42 L487.25,279.52 L487.75,279.62 L488.25,279.72 L488.75,279.82 L489.25,279.92 L489.75,280.02 L490.25,280.12 L490.75,280.21 L491.25,280.31 L491.75,280.4 L492.25,280.49 L492.75,280.59 L493.25,280.68 L493.75,280.77 L494.25,280.86 L494.75,280.95 L495.25,281.03 L495.75,281.12 L496.25,281.21 L496.75,281.29 L497.25,281.38 L497.75,281.46 L498.25,281.54 L498.75,281.62 L499.25,281.71 L499.75,281.79 L500.25,281.87 L500.75,281.94 L501.25,282.02 L501.75,282.1 L502.25,282.18 L502.75,282.26 L503.25,282.33 L503.75,282.41 L504.25,282.48 L504.75,282.56 L505.25,282.63 L505.75,282.7 L506.25,282.77 L506.75,282.85 L506.8,282.85" fill="none" stroke="#a6002a" stroke-width="1"/>
<line x1="386.6" y1="181" x2="386.6" y2="291.1" stroke="#000" stroke-width="1.15"/>
<line x1="386" y1="290.5" x2="512.75" y2="290.5" stroke="#000" stroke-width="1.15"/>
<line x1="383.2" y1="290.5" x2="386.6" y2="290.5" stroke="#000" stroke-width="1.15"/>
<text x="380.5" y="293" text-anchor="end" class="tk">0%</text>
<line x1="383.2" y1="255" x2="386.6" y2="255" stroke="#000" stroke-width="1.15"/>
<text x="380.5" y="257.5" text-anchor="end" class="tk">1%</text>
<line x1="383.2" y1="219.5" x2="386.6" y2="219.5" stroke="#000" stroke-width="1.15"/>
<text x="380.5" y="222" text-anchor="end" class="tk">2%</text>
<line x1="383.2" y1="184" x2="386.6" y2="184" stroke="#000" stroke-width="1.15"/>
<text x="380.5" y="186.5" text-anchor="end" class="tk">3%</text>
<text x="391.8" y="299.7" text-anchor="middle" class="tk">0-</text>
<text x="403.3" y="299.7" text-anchor="middle" class="tk">5-</text>
<text x="414.8" y="299.7" text-anchor="middle" class="tk">10-</text>
<text x="426.3" y="299.7" text-anchor="middle" class="tk">15-</text>
<text x="437.8" y="299.7" text-anchor="middle" class="tk">20-</text>
<text x="449.3" y="299.7" text-anchor="middle" class="tk">25-</text>
<text x="460.8" y="299.7" text-anchor="middle" class="tk">30-</text>
<text x="472.3" y="299.7" text-anchor="middle" class="tk">35-</text>
<text x="483.8" y="299.7" text-anchor="middle" class="tk">40-</text>
<text x="495.3" y="299.7" text-anchor="middle" class="tk">45-</text>
<text x="506.8" y="299.7" text-anchor="middle" class="tk">50-</text>
<text x="359" y="177.1" class="lt">F</text>
<text transform="translate(413.96,312.8) scale(0.66,1)" class="tt">Platelet</text>
<text transform="translate(438.42,312.8) scale(0.66,1)" class="tt">count</text>
<text transform="translate(457.59,312.8) scale(0.66,1)" class="tt">(</text>
<text transform="translate(460.18,312.8) scale(0.66,1)" class="tt">x</text>
<text transform="translate(465.57,312.8) scale(0.56,1)" class="tt">10</text>
<text transform="translate(472.47,309) scale(0.7,1)" class="tt" style="font-size:7px;stroke-width:0.2px">9</text>
<text transform="translate(475.1,312.8) scale(0.85,1)" class="tt">/</text>
<text transform="translate(479.23,312.8) scale(0.57,1)" class="tt">L</text>
<text transform="translate(482.56,312.8) scale(0.66,1)" class="tt">)</text>
<text transform="translate(23.8,107.25) rotate(-90) scale(0.668,1)" class="tt">Frequency of bleeding</text>
<text transform="translate(27.2,268.75) rotate(-90) scale(0.668,1)" class="tt">Frequency of bleeding</text>
<rect x="0.5" y="0.5" width="519" height="321" fill="none" stroke="#000" stroke-width="1.1"/>
</svg>
</body></html>
